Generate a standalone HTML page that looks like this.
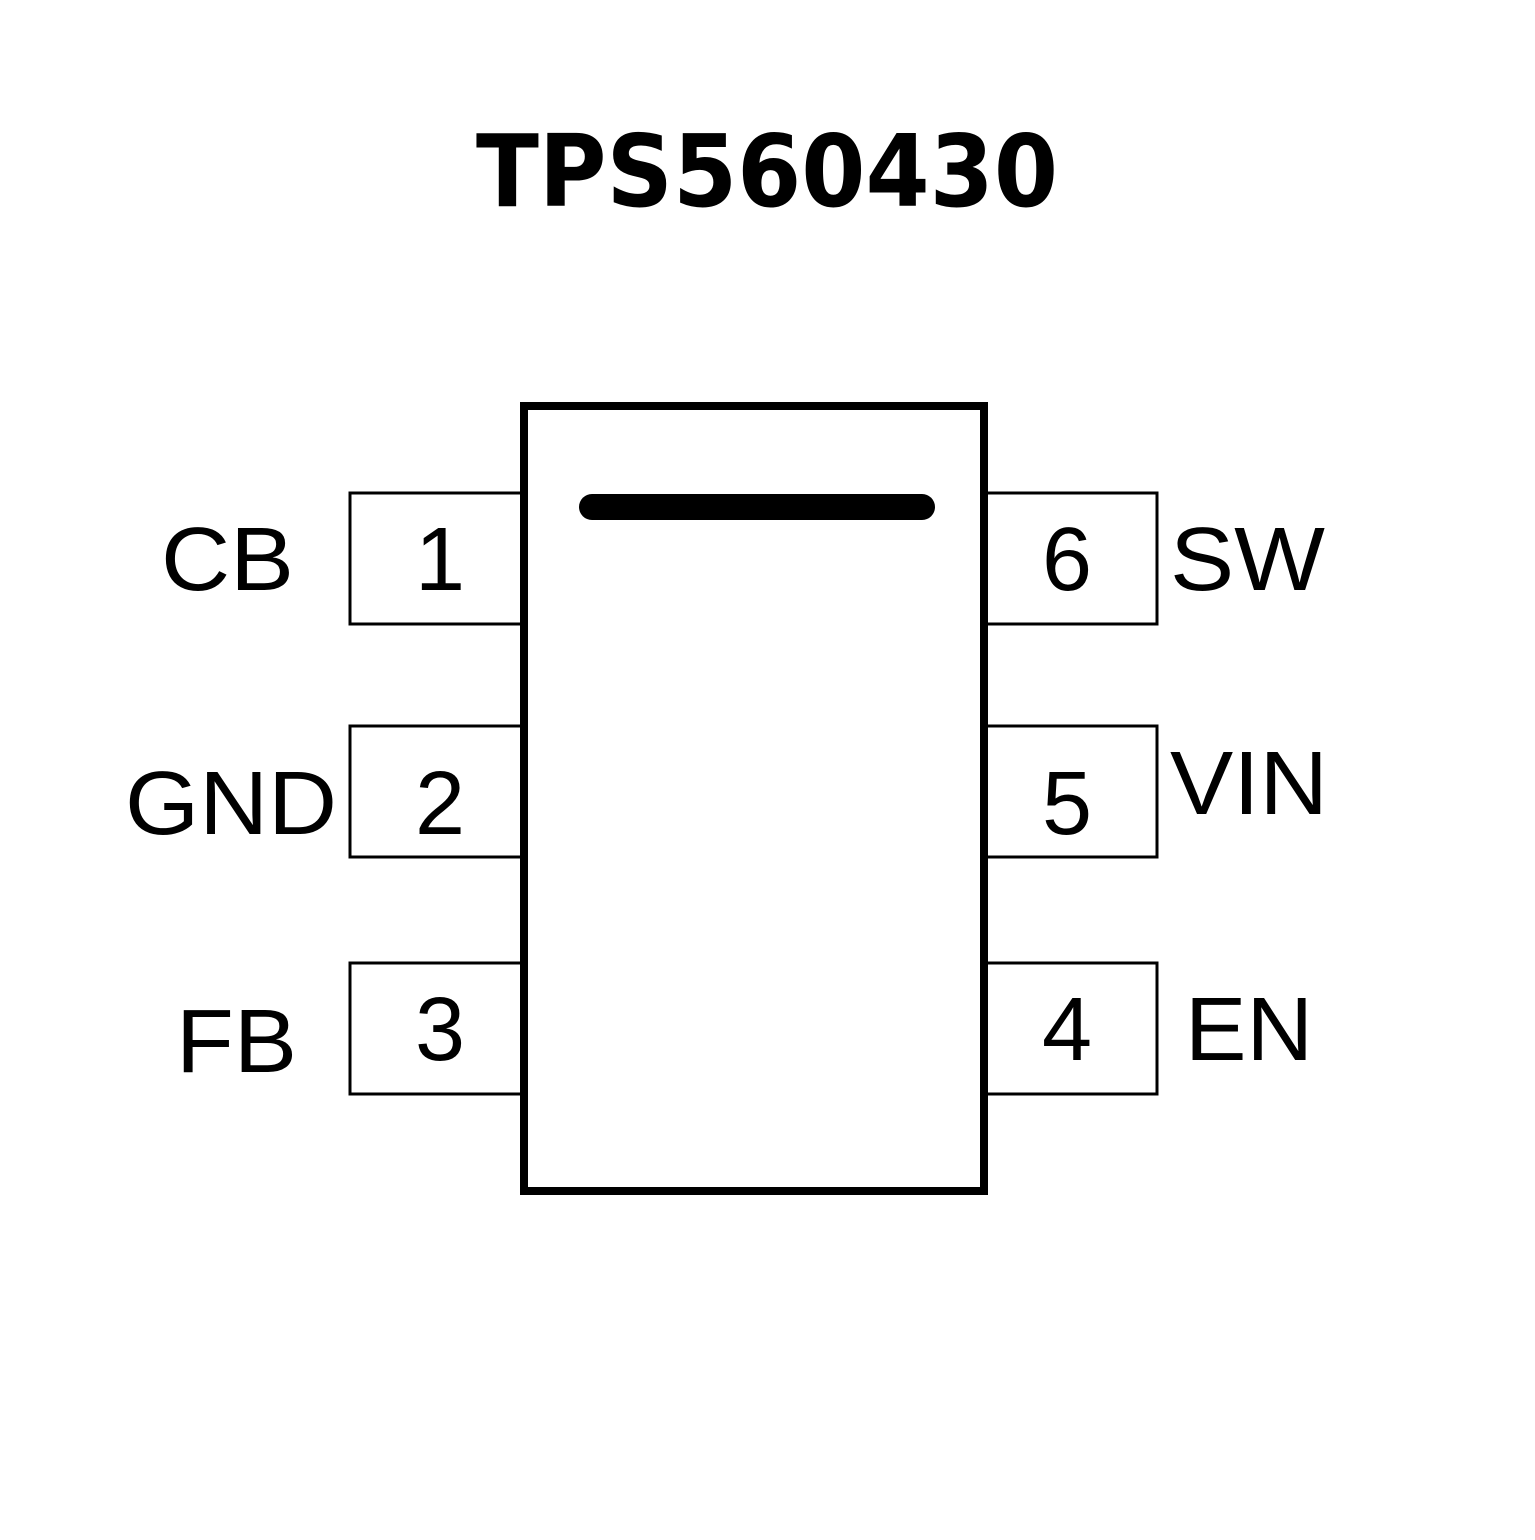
<!DOCTYPE html>
<html><head><style>body{margin:0;background:#fff}</style></head><body>
<svg width="1535" height="1535" viewBox="0 0 1535 1535" xmlns="http://www.w3.org/2000/svg">
<rect width="1535" height="1535" fill="#fff"/>
<text x="476" y="206" textLength="582" lengthAdjust="spacingAndGlyphs" font-family="DejaVu Sans, Liberation Sans, sans-serif" font-weight="bold" font-size="100" fill="#000">TPS560430</text>
<g fill="none" stroke="#000" stroke-width="3">
<rect x="350" y="493" width="172" height="131"/>
<rect x="350" y="726" width="172" height="131"/>
<rect x="350" y="963" width="172" height="131"/>
<rect x="985" y="493" width="172" height="131"/>
<rect x="985" y="726" width="172" height="131"/>
<rect x="985" y="963" width="172" height="131"/>
</g>
<rect x="524" y="406" width="460" height="785" fill="#fff" stroke="#000" stroke-width="8"/>
<line x1="592" y1="507" x2="922" y2="507" stroke="#000" stroke-width="26" stroke-linecap="round"/>
<g font-family="Liberation Sans, sans-serif" font-size="90" fill="#000">
<text x="440" y="590" text-anchor="middle">1</text>
<text x="440" y="834" text-anchor="middle">2</text>
<text x="440" y="1060" text-anchor="middle">3</text>
<text x="1067" y="590" text-anchor="middle">6</text>
<text x="1067" y="834" text-anchor="middle">5</text>
<text x="1067" y="1060" text-anchor="middle">4</text>
<text x="161" y="590" textLength="133" lengthAdjust="spacingAndGlyphs">CB</text>
<text x="125" y="834" textLength="212" lengthAdjust="spacingAndGlyphs">GND</text>
<text x="176" y="1072" textLength="121" lengthAdjust="spacingAndGlyphs">FB</text>
<text x="1170" y="590" textLength="155" lengthAdjust="spacingAndGlyphs">SW</text>
<text x="1170" y="814" textLength="158" lengthAdjust="spacingAndGlyphs">VIN</text>
<text x="1185" y="1060" textLength="128" lengthAdjust="spacingAndGlyphs">EN</text>
</g>
</svg>
</body></html>
